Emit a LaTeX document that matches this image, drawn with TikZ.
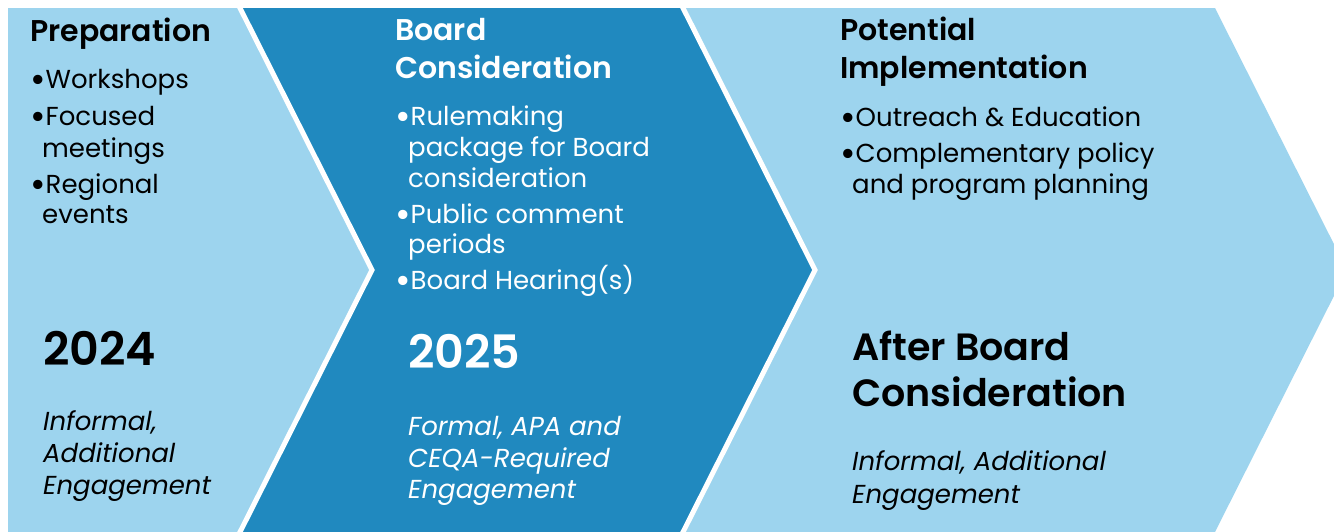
\documentclass[tikz,border=0pt]{standalone}
\usepackage{fontspec}
\usepackage{graphicx}
\setmainfont{Poppins}
\IfFontExistsTF{Poppins SemiBold}{\newfontfamily\semib{Poppins SemiBold}}{\newcommand\semib{\bfseries}}
\newcommand\bu{\raisebox{-4pt}{\scalebox{1.45}{•}}}
\definecolor{lightb}{RGB}{157,212,238}
\definecolor{darkb}{RGB}{32,137,191}
\begin{document}
\begin{tikzpicture}[x=1pt,y=-1pt,
  hdr/.style={anchor=base west,inner sep=0pt,font=\fontsize{30}{36}\selectfont\semib},
  bul/.style={anchor=base west,inner sep=0pt,font=\fontsize{26}{31}\selectfont},
  yr/.style={anchor=base west,inner sep=0pt,font=\fontsize{46}{52}\selectfont\semib},
  big/.style={anchor=base west,inner sep=0pt,font=\fontsize{38}{46}\selectfont\semib},
  ita/.style={anchor=base west,inner sep=0pt,font=\fontsize{26}{32}\selectfont\itshape},
  sep/.style={draw=white,line width=5pt}]
\useasboundingbox (0,0) rectangle (1334,531);
\fill[white] (0,0) rectangle (1334,531);
\begin{scope}
\clip (0,0) rectangle (1334,531);
\fill[lightb] (8,8) -- (240,8) -- (372,270) -- (240,532) -- (8,532) -- cycle;
\fill[darkb] (240,8) -- (683,8) -- (815,270) -- (683,532) -- (240,532) -- (372,270) -- cycle;
\fill[lightb] (683,8) -- (1215,8) -- (1347,270) -- (1215,532) -- (683,532) -- (815,270) -- cycle;
\draw[sep] (238,4) -- (372,270) -- (236,540);
\draw[sep] (681,4) -- (815,270) -- (679,540);
\end{scope}
% column 1
\node[hdr] (h1) at (30,41) {Preparation};
\node[bul] (a1) at (30,88) {\bu Workshops};
\node[bul] (a2) at (30,125) {\bu Focused};
\node[bul] (a3) at (42,157) {meetings};
\node[bul] (a4) at (30,193) {\bu Regional};
\node[bul] (a5) at (42,223) {events};
\node[yr] (y1) at (43,365) {2024};
\node[ita] (i1) at (43,430) {Informal,};
\node[ita] (i2) at (43,462) {Additional};
\node[ita] (i3) at (43,494) {Engagement};
% column 2
\node[hdr,white] (h2a) at (395,40) {Board};
\node[hdr,white] (h2b) at (395,78) {Consideration};
\node[bul,white] (b1) at (395,125) {\bu Rulemaking};
\node[bul,white] (b2) at (408,156) {package for Board};
\node[bul,white] (b3) at (408,187) {consideration};
\node[bul,white] (b4) at (395,223) {\bu Public comment};
\node[bul,white] (b5) at (408,253) {periods};
\node[bul,white] (b6) at (395,289) {\bu Board Hearing(s)};
\node[yr,white] (y2) at (408,368) {2025};
\node[ita,white] (j1) at (408,435) {Formal, APA and};
\node[ita,white] (j2) at (408,467) {CEQA-Required};
\node[ita,white] (j3) at (408,498) {Engagement};
% column 3
\node[hdr] (h3a) at (840,40) {Potential};
\node[hdr] (h3b) at (840,78) {Implementation};
\node[bul] (c1) at (840,126) {\bu Outreach \& Education};
\node[bul] (c2) at (840,162) {\bu Complementary policy};
\node[bul] (c3) at (852,193) {and program planning};
\node[big] (y3a) at (852,360) {After Board};
\node[big] (y3b) at (852,406) {Consideration};
\node[ita] (k1) at (852,470) {Informal, Additional};
\node[ita] (k2) at (852,503) {Engagement};
\end{tikzpicture}
\end{document}
